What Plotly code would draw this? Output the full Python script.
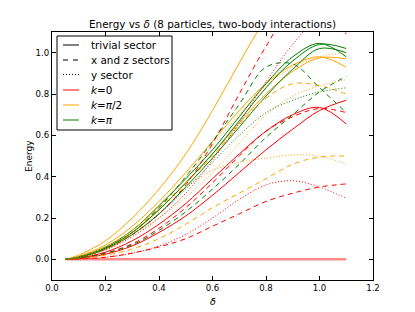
import plotly.graph_objects as go

xs = [0.05, 0.1, 0.2, 0.3, 0.4, 0.5, 0.6, 0.7, 0.8, 0.9, 1.0, 1.1]

# trivial sector (solid)
triv_k0_zero = [0, 0, 0, 0, 0, 0, 0, 0, 0, 0, 0, 0]
triv_k0_a = [0, 0.006, 0.035, 0.09, 0.17, 0.27, 0.39, 0.51, 0.62, 0.70, 0.735, 0.655]
triv_k0_b = [0, 0.004, 0.025, 0.065, 0.13, 0.21, 0.31, 0.42, 0.53, 0.63, 0.72, 0.77]
triv_kpi2_a = [0, 0.02, 0.09, 0.2, 0.34, 0.51, 0.72, 0.95, 1.17, 1.36, 1.5, 1.6]
triv_kpi2_b = [0, 0.014, 0.07, 0.16, 0.28, 0.42, 0.57, 0.72, 0.85, 0.94, 0.98, 0.93]
triv_kpi2_c = [0, 0.01, 0.055, 0.13, 0.24, 0.37, 0.51, 0.66, 0.8, 0.91, 0.975, 0.97]
triv_kpi_a = [0, 0.012, 0.06, 0.14, 0.26, 0.39, 0.53, 0.69, 0.85, 0.98, 1.045, 0.98]
triv_kpi_b = [0, 0.01, 0.055, 0.13, 0.24, 0.37, 0.51, 0.67, 0.83, 0.96, 1.04, 1.02]
triv_kpi_c = [0, 0.009, 0.05, 0.12, 0.22, 0.35, 0.49, 0.64, 0.79, 0.92, 1.02, 1.0]

# x and z sectors (dashed)
xz_k0_a = [0, 0.01, 0.05, 0.12, 0.22, 0.36, 0.56, 0.8, 1.03, 1.22, 1.25, 1.09]
xz_k0_b = [0, 0.006, 0.03, 0.075, 0.15, 0.25, 0.37, 0.5, 0.62, 0.69, 0.73, 0.71]
xz_k0_c = [0, 0.002, 0.01, 0.03, 0.06, 0.1, 0.16, 0.22, 0.28, 0.32, 0.35, 0.365]
xz_kpi2_a = [0, 0.012, 0.06, 0.14, 0.25, 0.37, 0.5, 0.65, 0.78, 0.85, 0.84, 0.8]
xz_kpi2_b = [0, 0.004, 0.02, 0.05, 0.1, 0.17, 0.25, 0.32, 0.39, 0.46, 0.495, 0.5]
xz_kpi_a = [0, 0.01, 0.055, 0.13, 0.25, 0.4, 0.57, 0.75, 0.93, 0.945, 0.83, 0.71]
xz_kpi_b = [0, 0.006, 0.03, 0.07, 0.14, 0.23, 0.34, 0.46, 0.59, 0.7, 0.81, 0.885]

# y sector (dotted)
y_k0_a = [0, 0.008, 0.045, 0.11, 0.2, 0.32, 0.48, 0.66, 0.86, 1.04, 1.18, 1.25]
y_k0_b = [0, 0.002, 0.01, 0.03, 0.065, 0.12, 0.2, 0.29, 0.36, 0.38, 0.35, 0.295]
y_kpi2_a = [0, 0.008, 0.05, 0.13, 0.25, 0.35, 0.43, 0.47, 0.49, 0.505, 0.5, 0.46]
y_kpi2_b = [0, 0.01, 0.05, 0.12, 0.2, 0.3, 0.42, 0.56, 0.7, 0.79, 0.84, 0.87]
y_kpi2_c = [0, 0.012, 0.06, 0.14, 0.26, 0.4, 0.55, 0.7, 0.84, 0.93, 0.98, 1.0]
y_kpi_a = [0, 0.01, 0.05, 0.12, 0.22, 0.34, 0.47, 0.6, 0.71, 0.77, 0.81, 0.83]

x_ticks = [0.0, 0.2, 0.4, 0.6, 0.8, 1.0, 1.2]
y_ticks = [0.0, 0.2, 0.4, 0.6, 0.8, 1.0]

legend_labels = ["trivial sector", "x and z sectors", "y sector",
                 "<i>k</i>=0", "<i>k</i>=<i>π</i>/2", "<i>k</i>=<i>π</i>"]

RED, ORANGE, GREEN = "#ff0000", "#ffa500", "#008000"
DASH, DOT = "5px,4px", "1px,2px"

curves = [
    (triv_k0_a, RED, "solid"), (triv_k0_b, RED, "solid"),
    (triv_kpi2_a, ORANGE, "solid"), (triv_kpi2_b, ORANGE, "solid"), (triv_kpi2_c, ORANGE, "solid"),
    (triv_kpi_a, GREEN, "solid"), (triv_kpi_b, GREEN, "solid"), (triv_kpi_c, GREEN, "solid"),
    (xz_k0_a, RED, DASH), (xz_k0_b, RED, DASH), (xz_k0_c, RED, DASH),
    (xz_kpi2_a, ORANGE, DASH), (xz_kpi2_b, ORANGE, DASH),
    (xz_kpi_a, GREEN, DASH), (xz_kpi_b, GREEN, DASH),
    (y_k0_a, RED, DOT), (y_k0_b, RED, DOT),
    (y_kpi2_a, ORANGE, DOT), (y_kpi2_b, ORANGE, DOT), (y_kpi2_c, ORANGE, DOT),
    (y_kpi_a, GREEN, DOT),
]

fig = go.Figure()
fig.add_trace(go.Scatter(x=xs, y=triv_k0_zero, mode="lines", showlegend=False,
                         line=dict(color="rgba(255,110,110,0.8)", width=2.5), hoverinfo="skip"))
for ys, col, dash in curves:
    fig.add_trace(go.Scatter(x=xs, y=ys, mode="lines", showlegend=False,
                             line=dict(color=col, width=1, dash=dash, shape="spline", smoothing=1.0)))

# manual legend (matplotlib-like compact box)
L, R_, T, B = 52, 373, 32, 280
W, H = R_ - L, B - T
def px(x):
    return (x - L) / W
def py(y):
    return (B - y) / H

fig.add_shape(type="rect", xref="paper", yref="paper",
              x0=px(57), x1=px(172), y0=py(130), y1=py(36),
              line=dict(color="black", width=1), fillcolor="white", layer="above")
legend_styles = [("black", "solid"), ("black", "5px,5px"), ("black", DOT),
                 (RED, "solid"), (ORANGE, "solid"), (GREEN, "solid")]
rows = [45, 60, 74.5, 90, 105, 120]
for lab, (col, dash), ry in zip(legend_labels, legend_styles, rows):
    fig.add_shape(type="line", xref="paper", yref="paper",
                  x0=px(63), x1=px(79), y0=py(ry), y1=py(ry),
                  line=dict(color=col, width=1, dash=dash), layer="above")
    fig.add_annotation(text=lab, xref="paper", yref="paper", x=px(89), y=py(ry),
                       xanchor="left", yanchor="middle", showarrow=False,
                       font=dict(size=10.4, color="black"))

# axis titles
fig.add_annotation(text="Energy", xref="paper", yref="paper", x=px(29), y=0.5,
                   textangle=-90, showarrow=False, xanchor="center", yanchor="middle",
                   font=dict(size=9, color="black"))
fig.add_annotation(text="<i>δ</i>", xref="paper", yref="paper", x=0.5, y=py(301),
                   showarrow=False, xanchor="center", yanchor="middle",
                   font=dict(size=9.5, color="black"))

axis_common = dict(showline=True, linecolor="black", linewidth=1, mirror="ticks",
                   ticks="inside", ticklen=4, tickcolor="black", showgrid=False,
                   zeroline=False, tickfont=dict(size=8.6, color="black"))

fig.update_layout(
    width=415, height=312,
    margin=dict(l=L, r=415 - R_, t=T, b=312 - B),
    paper_bgcolor="white", plot_bgcolor="white",
    font=dict(family="DejaVu Sans", size=10, color="black"),
    title=dict(text="Energy vs <i>δ</i> (8 particles, two-body interactions)",
               x=212.5 / 415, xanchor="center", y=(312 - 24) / 312, yanchor="middle",
               yref="container", font=dict(size=10.4)),
    xaxis=dict(range=[0, 1.2], tickvals=x_ticks, tickformat=".1f", **axis_common),
    yaxis=dict(range=[-0.1, 1.1], tickvals=y_ticks, tickformat=".1f", **axis_common),
    showlegend=False,
)

fig.write_html("out.html", config={"displayModeBar": False},
               post_script="document.body.style.margin='0';document.body.style.padding='0';")
